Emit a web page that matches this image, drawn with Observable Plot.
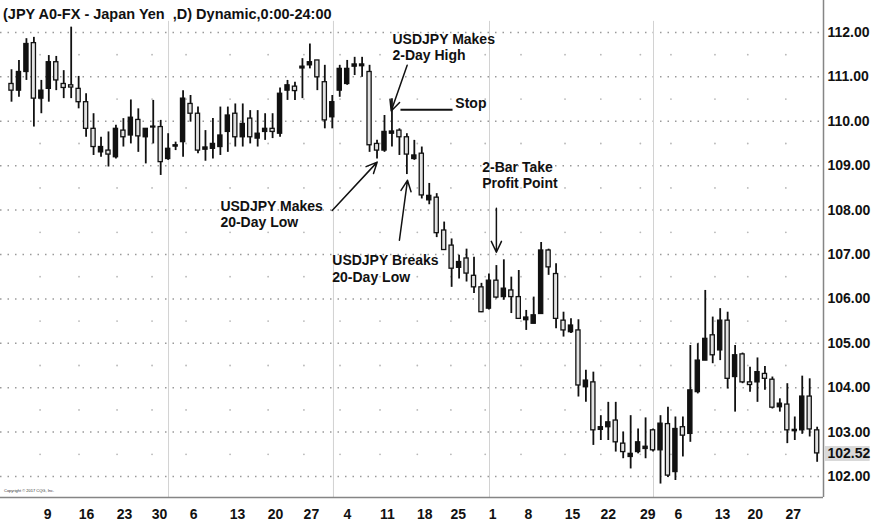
<!DOCTYPE html>
<html><head><meta charset="utf-8">
<script src="https://cdn.jsdelivr.net/npm/d3@7"></script>
<script src="https://cdn.jsdelivr.net/npm/@observablehq/plot@0.6"></script>
<style>
html,body{margin:0;padding:0;background:#fff;}
#wrap{position:relative;width:873px;height:526px;overflow:hidden;font-family:"Liberation Sans",Arial,sans-serif;}
#chart svg{display:block;}
#title{position:absolute;left:3px;top:6px;font-weight:bold;font-size:14.5px;line-height:17px;white-space:pre;color:#111;}
#copy{position:absolute;left:4px;top:488px;font-size:4px;color:#333;white-space:nowrap;}
</style></head><body>
<div id="wrap"><div id="chart"></div><div id="title">(JPY A0-FX - Japan Yen  ,D) Dynamic,0:00-24:00</div><div id="copy">Copyright © 2017 CQG, Inc.</div></div>
<script>
// ---- data (bar index = trading day) ----
const opens = [110.84,110.69,111.11,111.76,110.51,110.73,111.33,110.84,110.81,110.73,
110.43,109.83,109.30,109.34,109.19,109.79,109.68,110.03,109.64,109.88,
109.87,109.15,109.43,109.53,110.39,110.17,109.36,109.38,109.42,109.76,
110.17,109.64,110.06,109.61,109.76,109.83,109.72,110.69,110.78,111.19,
111.26,111.37,110.88,110.09,110.69,110.84,111.23,111.24,111.11,109.49,
109.34,109.72,109.79,109.64,109.15,109.27,108.22,108.28,107.54,107.20,
106.70,106.91,106.52,106.26,105.78,106.41,106.04,106.19,106.04,105.52,
105.44,105.66,107.09,106.56,105.51,105.25,105.29,104.01,104.12,103.05,
103.11,103.26,102.74,102.44,102.55,102.62,103.04,102.59,103.18,102.10,
103.11,102.96,103.90,104.61,105.18,104.84,105.51,104.24,104.75,104.12,
104.12,104.31,104.18,103.56,103.62,103.02,103.04,103.80,103.04];
const highs = [111.16,111.37,111.86,111.89,110.92,111.48,111.46,111.14,112.12,111.01,
110.62,110.17,109.64,109.76,109.91,110.06,110.48,110.28,109.83,110.47,
110.02,109.72,109.53,110.69,110.58,110.32,109.79,110.06,110.32,110.32,
110.39,110.39,110.24,110.24,110.17,110.17,110.75,110.92,110.88,111.41,
111.74,111.37,111.26,110.58,111.26,111.37,111.44,111.44,111.26,109.57,
110.13,110.51,109.83,109.72,109.57,109.42,108.60,108.37,107.73,107.35,
106.98,107.12,106.94,106.35,106.56,106.75,106.88,106.49,106.64,105.74,
106.04,107.27,107.12,106.79,105.70,105.55,105.53,104.39,104.35,103.37,
103.67,103.67,103.00,103.37,103.07,103.32,103.07,103.37,103.56,103.34,
103.34,104.95,104.99,106.19,105.59,105.78,105.70,104.95,104.78,104.46,
104.67,104.48,104.24,103.75,104.09,103.34,104.26,104.20,103.11];
const lows = [110.43,110.54,110.92,109.87,110.17,110.43,110.69,110.51,110.51,110.28,
109.64,109.23,109.19,108.97,109.15,109.42,109.49,109.30,109.04,109.49,
108.78,109.12,109.34,109.19,109.98,109.27,109.10,109.15,109.23,109.30,
109.42,109.42,109.49,109.42,109.57,109.61,109.64,110.47,110.47,110.51,
111.18,110.69,109.83,109.83,110.54,110.81,111.03,110.99,109.30,109.15,
109.30,109.42,109.23,108.80,109.12,108.25,108.12,107.38,107.09,106.26,
106.45,106.38,106.12,105.69,105.75,106.00,105.97,105.67,105.54,105.29,
105.44,105.65,106.53,105.33,105.14,105.22,103.79,103.67,102.70,102.81,
102.81,102.55,102.40,102.17,102.51,102.40,102.55,101.83,101.98,101.91,
102.44,102.77,103.86,104.61,104.54,104.61,103.97,103.45,104.09,103.90,
103.67,103.94,103.52,103.45,102.74,102.81,102.95,102.89,102.32];
const closes = [110.69,111.11,111.74,110.51,110.69,111.33,110.92,110.75,110.76,110.43,
109.83,109.42,109.42,109.25,109.83,109.64,110.08,109.66,109.83,109.86,
109.08,109.38,109.46,110.51,110.17,109.34,109.41,109.49,109.68,110.13,
109.64,109.94,109.64,109.72,109.83,109.76,110.62,110.81,110.68,111.23,
111.33,110.99,110.02,110.43,111.18,111.18,111.28,111.28,109.46,109.34,
109.76,109.77,109.64,109.25,109.23,108.33,108.32,107.48,107.10,106.68,
106.83,106.57,106.26,105.70,106.41,106.03,106.23,106.04,105.55,105.58,
105.63,107.09,106.71,105.55,105.29,105.40,104.05,104.16,103.04,103.11,
103.22,102.77,102.55,102.51,102.77,102.67,102.59,103.19,102.02,103.07,
102.92,103.94,104.61,105.10,104.73,105.51,104.20,104.73,104.12,104.06,
104.35,104.20,103.55,103.64,103.04,103.05,103.80,103.06,102.52];

const tickIdx = [4.83,10.05,15.15,19.84,24.4,30.3,35.4,40.2,45.04,50.4,55.4,59.9,64.5,69.3,75.2,80.0,85.3,89.4,95.3,99.7,104.8];
const tickLabels = ["9","16","23","30","6","13","20","27","4","11","18","25","1","8","15","22","29","6","13","20","27"];
const priceTicks = [102,103,104,105,106,107,108,109,110,111,112];
const halfLevels = [102.5,103.5,104.5,105.5,106.5,107.5,108.5,109.5,110.5,111.5];
const monthSeps = [21.05,43.16,64.08,86.06];

const notes = [
  {i:51.07, p:112.01, t:"USDJPY Makes\n2-Day High"},
  {i:59.5,  p:110.56, t:"Stop"},
  {i:28.0,  p:108.25, t:"USDJPY Makes\n20-Day Low"},
  {i:43.0,  p:107.02, t:"USDJPY Breaks\n20-Day Low"},
  {i:63.1,  p:109.12, t:"2-Bar Take\nProfit Point"}
];
const arrows = [
  {i1:53.04, p1:111.26, i2:50.9,  p2:110.23},
  {i1:42.99, p1:107.99, i2:49.02, p2:109.08},
  {i1:52.0,  p1:107.32, i2:53.08, p2:108.67},
  {i1:65.0,  p1:108.04, i2:65.0,  p2:107.05}
];
const stopLine = [{i1:52.14, p1:110.26, i2:59.12, p2:110.26}];

// ---- build ----
const bars = opens.map((o,k)=>({i:k, open:o, high:highs[k], low:lows[k], close:closes[k]}));
const up = bars.filter(d=>d.close>=d.open);
const down = bars.filter(d=>d.close<d.open);
const xDom = [-1.475, 108.85];
const yDom = [101.527, 112.72];
const lastClose = closes[closes.length-1];
const labelOf = new Map(tickIdx.map((t,k)=>[t, tickLabels[k]]));
const weekIdx = tickIdx.map(t=>t-1);
const halfDots = d3.cross(weekIdx, halfLevels);
const hw = 0.28;

const chart = Plot.plot({
  width: 873, height: 526,
  marginLeft: 0, marginRight: 50, marginTop: 0, marginBottom: 29,
  x: {type:"linear", domain: xDom},
  y: {type:"linear", domain: yDom},
  style: {fontFamily:"'Liberation Sans', Arial, sans-serif", fontSize:"14px", fontWeight:"bold", color:"#111", background:"#fff"},
  marks: [
    Plot.ruleY(priceTicks, {stroke:"#9a9a9a", strokeWidth:1.5, strokeDasharray:"1.5,6"}),
    Plot.dot(halfDots, {x:d=>d[0], y:d=>d[1], r:0.9, fill:"#b8b8b8"}),
    Plot.ruleX(monthSeps, {y1:112.25, y2:yDom[0], stroke:"#d2d2d2", strokeWidth:1}),
    Plot.ruleX(bars, {x:"i", y1:"low", y2:"high", stroke:"#111", strokeWidth:1.8}),
    Plot.rect(down, {x1:d=>d.i-hw, x2:d=>d.i+hw, y1:"open", y2:"close", fill:"#e2e2e2", stroke:"#111", strokeWidth:1.3}),
    Plot.rect(up, {x1:d=>d.i-hw, x2:d=>d.i+hw, y1:"open", y2:"close", fill:"#111", stroke:"#111", strokeWidth:1.3}),
    Plot.link(stopLine, {x1:"i1", y1:"p1", x2:"i2", y2:"p2", stroke:"#111", strokeWidth:1.8}),
    Plot.arrow(arrows, {x1:"i1", y1:"p1", x2:"i2", y2:"p2", stroke:"#111", strokeWidth:1.5, headLength:12, headAngle:50}),
    Plot.text(notes, {x:"i", y:"p", text:"t", textAnchor:"start", lineAnchor:"top", lineHeight:1.17, fontSize:14, fontWeight:"bold", fill:"#111"}),
    Plot.ruleY([yDom[0]], {stroke:"#858585", strokeWidth:1.5}),
    Plot.ruleX([xDom[1]], {stroke:"#858585", strokeWidth:1.5}),
    Plot.ruleY([lastClose], {x1:109.05, x2:115.1, stroke:"#d9d9d9", strokeWidth:15}),
    Plot.axisY([...priceTicks, lastClose], {anchor:"right", tickSize:0, tickPadding:4, tickFormat:d3.format(".2f"), fontSize:14, fontWeight:"bold", label:null}),
    Plot.axisX(tickIdx, {anchor:"bottom", tickSize:0, tickPadding:12, tickFormat:d=>labelOf.get(d), fontSize:14, fontWeight:"bold", label:null})
  ]
});
document.getElementById("chart").appendChild(chart);
</script>
</body></html>
